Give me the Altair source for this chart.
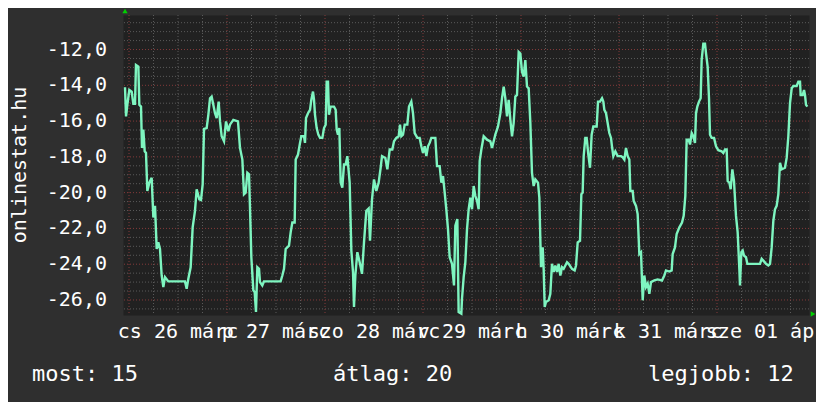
import altair as alt
import pandas as pd

# ---- data (hours since 26 March 00:00, value) ----
hours = [
    -0.98, -0.73, -0.41, 0.08, 0.65, 1.06, 1.47, 1.71, 2.29, 2.53, 2.94, 3.18, 3.51, 3.84, 4.16, 4.49, 4.98, 5.55,
    5.96, 6.37, 6.78, 7.18, 7.59, 8.00, 8.41, 8.82, 9.63, 11.67, 13.71, 14.12, 14.53, 15.10, 15.59, 16.16, 16.57,
    17.22, 17.63, 18.04, 18.37, 19.02, 19.43, 19.84, 20.24, 20.65, 21.06, 21.47, 21.96, 22.29, 22.69, 23.27, 23.76,
    24.33, 24.73, 25.55,
    26.69, 27.18, 27.76, 28.16, 28.57, 28.98, 29.39, 29.63, 29.96, 30.45, 30.78, 31.10, 31.43, 31.84, 32.08, 32.65,
    33.06, 37.14, 37.55, 37.96, 38.37, 39.18, 39.59, 40.00, 40.57, 40.82, 41.39, 41.88, 42.20, 42.86, 43.10, 43.35,
    43.84, 44.33, 44.65, 45.06, 45.31, 45.55, 45.96, 46.37, 46.78, 47.35, 47.76, 48.16, 48.41, 48.73, 48.98, 49.39,
    50.20, 50.61, 50.86, 51.18, 51.51, 51.84, 52.24, 52.65, 53.06, 53.47,
    54.04, 54.45, 54.86, 55.10, 55.43, 55.92, 56.49, 57.06, 57.55, 58.12, 58.69, 59.02, 59.51, 60.00, 60.57, 61.14,
    61.63, 61.96, 62.78, 63.27, 63.84, 64.49, 64.90, 65.47, 66.04, 66.37, 66.69, 67.10, 67.51, 68.16, 68.57, 69.14,
    69.55, 69.96, 70.61, 71.18, 71.59, 72.00, 72.41, 72.82, 73.22, 73.63, 74.04, 75.02, 75.43, 76.08, 76.49, 76.90,
    77.31, 77.71, 78.12, 78.53, 79.10, 79.59, 79.92, 80.41, 80.73, 81.39,
    81.55, 81.96, 82.37, 82.78, 83.18, 83.59, 84.00, 84.41, 84.82, 85.22, 85.63, 85.88, 86.29, 86.86, 87.67, 88.49,
    88.90, 89.31, 89.71, 90.37, 90.94, 91.35, 91.76, 92.16, 92.57, 92.98, 93.39, 93.80, 94.20, 94.61, 95.02, 95.43,
    95.84, 96.24, 96.65, 97.06, 97.47, 97.88, 98.29, 98.69, 99.10, 99.51, 100.16, 100.49, 100.90, 101.31, 101.55,
    101.80, 102.12, 102.78, 103.18, 103.59, 104.00, 104.41, 104.82, 105.22, 105.63, 106.04, 106.45, 107.27, 107.67,
    108.49, 109.14,
    109.47, 109.88, 110.45, 110.78, 111.10, 111.35, 111.75, 112.08, 112.49, 112.90, 113.30, 113.71, 114.53, 114.86,
    115.35, 115.84, 116.16, 116.41, 116.82, 117.22, 117.63, 118.04, 118.28, 118.61, 119.10, 119.67, 120.49, 120.90,
    121.31, 121.71, 122.12, 122.53, 122.78, 123.35, 123.59, 124.16, 124.57, 124.98, 125.39, 125.80, 126.20, 126.61,
    127.02, 127.43, 127.84, 128.65, 129.47, 130.53, 131.10, 131.51, 132.33, 132.90, 133.14, 133.71, 134.12, 134.78,
    135.43, 135.84, 136.24, 136.57, 137.06,
    137.39, 137.80, 138.20, 138.61, 138.86, 139.18, 139.59, 140.00, 140.24, 140.65, 141.06, 141.31, 141.71, 142.04,
    142.29, 142.69, 143.27, 143.76, 144.33, 145.14, 145.55, 145.96, 146.37, 146.61, 147.02, 147.35, 147.76, 148.16,
    148.65, 149.06, 149.47, 149.63, 149.96, 150.29, 150.61, 151.10, 151.43, 152.49, 153.71, 154.53, 154.94, 155.35,
    156.00, 156.57, 156.98, 157.39, 157.80, 158.20, 158.61, 159.02, 159.43, 159.84, 160.65, 161.06, 161.47, 161.88,
    162.29, 162.69, 163.51, 163.92, 164.33, 164.49, 164.98, 165.31, 165.55, 165.80, 166.12,
]
values = [
    -14.11, -15.74, -15.09, -14.26, -14.35, -15.04, -15.04, -12.87, -12.96, -15.09, -15.19, -17.50, -16.48, -17.69,
    -17.78, -19.91, -19.44, -19.17, -21.39, -20.74, -23.15, -22.78, -23.15, -24.63, -25.28, -24.72, -24.96, -24.96,
    -24.96, -25.37, -24.81, -24.17, -21.94, -21.02, -19.81, -20.37, -20.41, -19.54, -16.44, -16.39, -15.65, -14.72,
    -14.63, -15.09, -15.56, -15.83, -14.91, -16.02, -16.85, -17.13, -16.02, -16.57, -16.20, -15.93,
    -16.02, -17.50, -18.15, -20.09, -20.00, -18.89, -18.98, -20.83, -23.61, -25.46, -25.56, -26.67, -24.17, -24.26,
    -25.00, -25.19, -24.96, -24.96, -24.63, -24.26, -23.15, -22.96, -22.22, -21.67, -21.67, -18.15, -17.87, -17.22,
    -16.85, -16.85, -17.22, -15.83, -15.56, -15.37, -14.81, -14.35, -14.81, -15.65, -16.39, -16.76, -16.94, -16.94,
    -16.39, -16.20, -13.80, -13.80, -15.65, -15.19, -15.19, -15.37, -16.48, -16.76, -16.39, -19.44, -19.72, -18.43,
    -18.43, -17.96,
    -19.44, -23.24, -24.44, -26.39, -24.63, -23.33, -23.89, -24.54, -22.78, -21.02, -20.89, -22.69, -20.37, -19.26,
    -19.91, -19.44, -18.61, -17.96, -18.06, -18.70, -17.59, -17.59, -17.13, -16.94, -16.85, -16.20, -16.85, -16.76,
    -16.20, -16.20, -15.19, -14.91, -15.56, -16.67, -16.94, -16.94, -17.41, -17.78, -17.41, -17.96, -17.41, -17.22,
    -16.94, -16.94, -18.52, -18.52, -19.44, -19.07, -20.00, -20.93, -22.04, -23.61, -23.98, -25.19, -21.85, -21.48,
    -26.67, -26.76,
    -25.93, -24.72, -23.89, -22.04, -20.93, -20.28, -20.93, -19.63, -20.19, -20.46, -20.93, -18.24, -17.59, -16.85,
    -17.04, -17.13, -17.50, -17.13, -16.76, -16.30, -15.56, -14.72, -14.07, -14.72, -15.74, -14.81, -15.93, -16.85,
    -16.11, -14.63, -14.54, -12.13, -12.22, -13.24, -13.52, -12.59, -14.07, -14.17, -16.11, -18.89, -19.63, -19.26,
    -19.44, -20.28, -24.17, -23.06, -24.26, -26.39, -26.11, -26.02, -25.65, -23.98, -24.44, -24.07, -24.44, -23.98,
    -24.63, -24.17, -24.26, -23.89, -23.98, -24.26, -24.35,
    -24.07, -22.78, -22.69, -20.09, -20.00, -17.96, -16.94, -16.94, -17.87, -18.61, -16.76, -16.30, -16.30, -14.91,
    -14.91, -14.72, -14.91, -15.37, -15.56, -16.11, -16.67, -16.94, -17.41, -17.96, -17.69, -17.96, -17.96, -18.02,
    -18.15, -17.50, -17.96, -18.15, -19.91, -19.91, -20.46, -20.74, -21.20, -23.43, -23.33, -26.02, -24.63, -25.28,
    -25.09, -25.65, -25.00, -24.91, -24.85, -24.91, -24.63, -24.35, -24.41, -24.35, -23.43, -23.06, -22.31, -21.94,
    -21.67, -21.30, -20.19, -17.04, -17.04,
    -17.31, -16.67, -16.85, -17.22, -15.56, -15.19, -14.91, -14.72, -12.59, -11.67, -11.67, -12.22, -12.96, -14.72,
    -16.76, -16.94, -16.94, -17.41, -17.63, -17.69, -17.78, -17.59, -17.59, -19.35, -19.44, -19.81, -18.70, -19.35,
    -21.30, -22.22, -24.26, -25.19, -23.33, -23.24, -23.52, -23.61, -23.98, -23.98, -23.98, -23.98, -23.70, -23.80,
    -23.98, -24.07, -23.98, -23.06, -21.57, -20.93, -20.74, -20.09, -18.33, -18.70, -18.61, -18.06, -16.85, -15.00,
    -14.17, -14.04, -14.04, -13.80, -13.80, -14.54, -14.54, -14.26, -14.54, -15.09, -15.19,
]

day_labels = ["cs 26 márc", "p 27 márc", "szo 28 márc", "v 29 márc", "h 30 márc", "k 31 márc", "sze 01 ápr"]
day_label_hours = [12, 36, 60, 84, 108, 132, 156]
y_label_values = [-26, -24, -22, -20, -18, -16, -14, -12]
y_labels = ["-26,0", "-24,0", "-22,0", "-20,0", "-18,0", "-16,0", "-14,0", "-12,0"]
summary_texts = ["most: 15", "átlag: 20", "legjobb: 12"]
y_title = "onlinestat.hu"

x_domain = [-1.47, 166.53]
y_domain = [-26.84, -10.07]

x_major = [0, 24, 48, 72, 96, 120, 144]
x_minor = [h for h in range(6, 166, 6) if h % 24 != 0]
y_minor = [v / 2 for v in range(-53, -20) if v % 4 != 0]

FONT = "DejaVu Sans Mono"
LINE = "#7ef5c0"
GRID_MINOR = "#5a5a5a"
GRID_MAJOR = "#843a3a"
TEXT = "#ffffff"

x_scale = alt.Scale(domain=x_domain, nice=False, zero=False)
y_scale = alt.Scale(domain=y_domain, nice=False, zero=False)


def hrule(vals, color):
    return alt.Chart(pd.DataFrame({"gy": vals})).mark_rule(
        color=color, strokeDash=[1, 2], strokeWidth=1
    ).encode(y=alt.Y("gy:Q", scale=y_scale, axis=None))


def vrule(vals, color):
    return alt.Chart(pd.DataFrame({"gx": vals})).mark_rule(
        color=color, strokeDash=[1, 2], strokeWidth=1
    ).encode(x=alt.X("gx:Q", scale=x_scale, axis=None))


line = alt.Chart(pd.DataFrame({"h": hours, "v": values})).mark_line(
    color=LINE, strokeWidth=2.4
).encode(
    x=alt.X("h:Q", scale=x_scale, axis=None),
    y=alt.Y("v:Q", scale=y_scale, axis=None),
)

y_tick_text = alt.Chart(pd.DataFrame({"v": y_label_values, "lab": y_labels})).mark_text(
    font=FONT, fontSize=20, color=TEXT, align="right", baseline="middle"
).encode(
    x=alt.value(-16),
    y=alt.Y("v:Q", scale=y_scale, axis=None),
    text="lab:N",
)

x_tick_text = alt.Chart(pd.DataFrame({"h": day_label_hours, "lab": day_labels})).mark_text(
    font=FONT, fontSize=20, color=TEXT, align="center", baseline="alphabetic"
).encode(
    x=alt.X("h:Q", scale=x_scale, axis=None),
    y=alt.value(323),
    text="lab:N",
)

title_text = alt.Chart(pd.DataFrame({"t": [y_title]})).mark_text(
    font=FONT, fontSize=20, color=TEXT, align="center", baseline="alphabetic", angle=270
).encode(x=alt.value(-97), y=alt.value(150), text="t:N")

summary_x = [-91, 210, 525]
texts = [
    alt.Chart(pd.DataFrame({"t": [s]})).mark_text(
        font=FONT, fontSize=22, color=TEXT, align="left", baseline="alphabetic"
    ).encode(x=alt.value(px), y=alt.value(366), text="t:N")
    for s, px in zip(summary_texts, summary_x)
]

arrow_up = alt.Chart(pd.DataFrame({"a": [0]})).mark_point(
    shape="triangle-up", filled=True, color="#00d000", size=28, opacity=1
).encode(x=alt.value(2), y=alt.value(-4))
arrow_right = alt.Chart(pd.DataFrame({"a": [0]})).mark_point(
    shape="triangle-right", filled=True, color="#00d000", size=28, opacity=1
).encode(x=alt.value(690), y=alt.value(299))

chart = alt.layer(
    hrule(y_minor, GRID_MINOR),
    vrule(x_minor, GRID_MINOR),
    hrule(y_label_values, GRID_MAJOR),
    vrule(x_major, GRID_MAJOR),
    line,
    y_tick_text,
    x_tick_text,
    title_text,
    *texts,
    arrow_up,
    arrow_right,
).properties(
    width=686,
    height=300,
    autosize=alt.AutoSizeParams(type="none"),
    padding={"left": 115, "top": 7, "right": 7, "bottom": 87},
).configure(
    background="#2f2f2f"
).configure_view(
    fill="#212121", stroke="transparent"
)

chart.save("out.html", embed_options={"renderer": "svg", "actions": False})
